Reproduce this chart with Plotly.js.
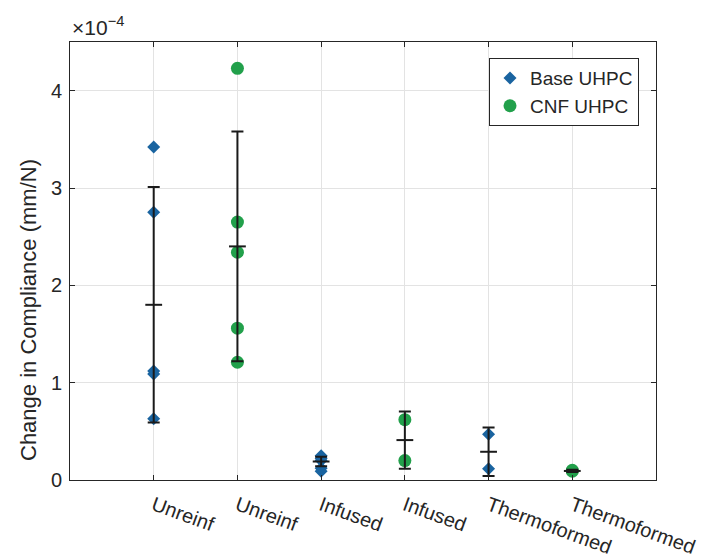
<!DOCTYPE html>
<html>
<head>
<meta charset="utf-8">
<script src="https://cdn.plot.ly/plotly-3.0.1.min.js"></script>
<style>html,body{margin:0;padding:0;background:#fff}#chart{width:703px;height:558px}</style>
</head>
<body>
<div id="chart"></div>
<script>
// Values are in units of 1e-4 mm/N (axis shows x10^-4)
const categories = ["Unreinf", "Unreinf", "Infused", "Infused", "Thermoformed", "Thermoformed"];
const categoryPos = [1, 2, 3, 4, 5, 6];

const baseX = [1, 1, 1, 1, 1, 3, 3, 3, 3, 3, 5, 5];
const baseY = [3.42, 2.75, 1.12, 1.09, 0.63, 0.25, 0.22, 0.20, 0.12, 0.09, 0.47, 0.115];

const cnfX = [2, 2, 2, 2, 2, 4, 4, 6, 6];
const cnfY = [4.23, 2.65, 2.34, 1.56, 1.21, 0.62, 0.20, 0.10, 0.09];

const groupMean = [1.80, 2.40, 0.19, 0.41, 0.29, 0.093];
const groupStd  = [1.21, 1.18, 0.048, 0.295, 0.25, 0.012];

const yTicks = [0, 1, 2, 3, 4];

const FONT = "Liberation Sans, Arial, Helvetica, sans-serif";
const TXT = "#262626";

const traces = [
  {
    type: "scatter", mode: "markers", name: "Base UHPC",
    x: baseX, y: baseY,
    marker: {symbol: "diamond", size: 10, color: "#1a64a0"}
  },
  {
    type: "scatter", mode: "markers", name: "CNF UHPC",
    x: cnfX, y: cnfY,
    marker: {symbol: "circle", size: 13, color: "#22a04b"}
  },
  {
    type: "scatter", mode: "markers", showlegend: false,
    x: categoryPos, y: groupMean,
    marker: {symbol: "line-ew", size: 12, color: "#1a1a1a", line: {width: 2, color: "#1a1a1a"}},
    error_y: {type: "data", array: groupStd, visible: true, color: "#1a1a1a", thickness: 2, width: 6}
  }
];

const layout = {
  width: 703, height: 558,
  margin: {l: 70, r: 47, t: 42, b: 78},
  paper_bgcolor: "#fff", plot_bgcolor: "#fff",
  font: {family: FONT, size: 19, color: TXT},
  showlegend: true,
  legend: {
    x: 0.971, y: 0.963, xanchor: "right", yanchor: "top",
    bgcolor: "#fff", bordercolor: TXT, borderwidth: 1,
    font: {family: FONT, size: 19, color: TXT},
    itemwidth: 30, tracegroupgap: 0
  },
  xaxis: {
    range: [0, 7],
    tickmode: "array", tickvals: categoryPos, ticktext: categories,
    tickangle: 20,
    ticks: "inside", ticklen: 5, tickcolor: TXT, tickwidth: 1,
    ticklabelstandoff: 5,
    showline: true, linecolor: TXT, linewidth: 1, mirror: "ticks",
    showgrid: true, gridcolor: "#e3e3e3", gridwidth: 1,
    zeroline: false,
    tickfont: {family: FONT, size: 20, color: TXT}
  },
  yaxis: {
    range: [0, 4.5],
    tickmode: "array", tickvals: yTicks, ticktext: yTicks.map(String),
    ticks: "inside", ticklen: 5, tickcolor: TXT, tickwidth: 1,
    ticklabelstandoff: 3,
    showline: true, linecolor: TXT, linewidth: 1, mirror: "ticks",
    showgrid: true, gridcolor: "#e3e3e3", gridwidth: 1,
    zeroline: false,
    tickfont: {family: FONT, size: 20, color: TXT}
  },
  annotations: [
    {
      xref: "paper", yref: "paper", x: 0, y: 1, xanchor: "left", yanchor: "bottom",
      text: "×10<sup>−4</sup>", showarrow: false, yshift: 1,
      font: {family: FONT, size: 21, color: TXT}
    },
    {
      xref: "paper", yref: "paper", x: (28 - 70) / 586, y: (480 - 310) / 438,
      xanchor: "center", yanchor: "middle", textangle: -90,
      text: "Change in Compliance (mm/N)", showarrow: false,
      font: {family: FONT, size: 22, color: TXT}
    }
  ]
};

Plotly.newPlot("chart", traces, layout, {displayModeBar: false, staticPlot: true});
</script>
</body>
</html>
